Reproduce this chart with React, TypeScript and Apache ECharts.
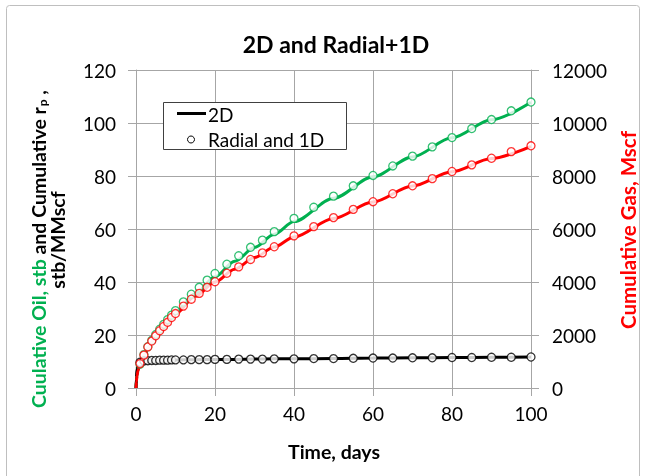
import React, { useEffect, useRef } from "react";
import * as echarts from "echarts";

// Time (days) of the "Radial and 1D" markers
const markerT = [1, 2, 3, 4, 5, 6, 7, 8, 9, 10, 12, 14, 16, 18, 20, 23, 26, 29, 32, 35, 40, 45, 50, 55, 60, 65, 70, 75, 80, 85, 90, 95, 100];
// Cumulative oil, stb (Radial and 1D)
const oilMarkers = [9.0, 12.6, 15.6, 18.0, 20.2, 22.2, 24.0, 25.8, 27.5, 29.2, 32.5, 35.4, 38.0, 40.7, 43.2, 46.7, 49.9, 53.1, 55.8, 59.0, 64.0, 68.2, 72.4, 76.3, 80.2, 83.8, 87.5, 91.0, 94.5, 97.9, 101.3, 104.6, 107.9];
// Cumulative gas, Mscf (Radial and 1D)
const gasMarkers = [920, 1240, 1550, 1770, 1970, 2160, 2320, 2480, 2660, 2810, 3090, 3350, 3570, 3800, 4010, 4330, 4570, 4850, 5100, 5330, 5740, 6090, 6430, 6740, 7030, 7330, 7630, 7900, 8170, 8420, 8670, 8920, 9140];
// Cumulative rp, stb/MMscf (Radial and 1D)
const rpMarkers = [9.7, 10.2, 10.3, 10.4, 10.4, 10.5, 10.5, 10.5, 10.6, 10.6, 10.6, 10.7, 10.7, 10.7, 10.8, 10.8, 10.9, 10.9, 10.9, 11.0, 11.0, 11.1, 11.1, 11.2, 11.3, 11.3, 11.4, 11.4, 11.5, 11.5, 11.6, 11.6, 11.7];

// Time (days) of the 2D curves
const lineT = [0, 0.1, 0.25, 0.5, 1, 2, 3, 5, 7, 10, 15, 20, 25, 30, 35, 40, 50, 60, 70, 80, 90, 100];
const oilLine = [0, 3.0, 5.0, 6.8, 8.8, 12.3, 15.2, 19.8, 23.6, 28.6, 35.6, 42.0, 47.8, 53.0, 58.0, 62.8, 71.6, 79.7, 87.2, 94.4, 101.2, 107.8];
const gasLine = [0, 250, 450, 650, 900, 1230, 1510, 1960, 2320, 2800, 3460, 4000, 4480, 4920, 5320, 5700, 6400, 7020, 7620, 8160, 8660, 9120];
const rpLine = [0, 4.0, 7.0, 8.8, 9.8, 10.2, 10.3, 10.4, 10.5, 10.6, 10.7, 10.8, 10.8, 10.9, 11.0, 11.0, 11.1, 11.3, 11.4, 11.5, 11.6, 11.7];

const GREEN = "#00B050";
const RED = "#FF0000";
const GRID = "#a6a6a6";
const FONT = "Lato";

const pair = (t: number[], v: number[]) => t.map((x, i) => [x, v[i]]);

export default function App() {
  const ref = useRef<HTMLDivElement>(null);
  useEffect(() => {
    if (!ref.current) return;
    const chart = echarts.init(ref.current, null, { renderer: "svg" });

    const lineSeries = (name: string, data: number[][], color: string, yi: number) => ({
      name,
      type: "line",
      yAxisIndex: yi,
      data,
      showSymbol: false,
      smooth: 0.3,
      smoothMonotone: "x",
      lineStyle: { color, width: 3 },
      itemStyle: { color },
      z: 2,
    });
    const markerSeries = (name: string, data: number[][], color: string, yi: number) => ({
      name,
      type: "scatter",
      yAxisIndex: yi,
      data,
      symbol: "circle",
      symbolSize: 8,
      itemStyle: { color: "#ffffff", borderColor: color, borderWidth: 1.3 },
      z: 3,
    });

    const axisCommon = {
      axisLine: { show: true, lineStyle: { color: GRID, width: 1 } },
      axisTick: { show: true, length: 8, lineStyle: { color: GRID, width: 1 } },
      axisLabel: { color: "#000", fontSize: 19, fontFamily: FONT, formatter: (v: number) => String(v) },
    };

    chart.setOption({
      animation: false,
      textStyle: { fontFamily: FONT },
      title: {
        text: "2D and Radial+1D",
        left: 331,
        top: 27,
        textAlign: "center",
        textStyle: { fontFamily: FONT, fontSize: 23, fontWeight: "bold", color: "#000" },
      },
      grid: { left: 136, right: 116, top: 70, bottom: 88 },
      xAxis: {
        type: "value",
        min: 0,
        max: 100,
        interval: 20,
        ...axisCommon,
        axisLabel: { ...axisCommon.axisLabel, margin: 16 },
        splitLine: { show: true, lineStyle: { color: GRID, width: 1 } },
      },
      yAxis: [
        {
          type: "value",
          min: 0,
          max: 120,
          interval: 20,
          position: "left",
          ...axisCommon,
          axisLabel: { ...axisCommon.axisLabel, margin: 20 },
          splitLine: { show: true, lineStyle: { color: GRID, width: 1 } },
        },
        {
          type: "value",
          min: 0,
          max: 12000,
          interval: 2000,
          position: "right",
          ...axisCommon,
          axisLabel: { ...axisCommon.axisLabel, margin: 21 },
          splitLine: { show: false },
        },
      ],
      series: [
        lineSeries("Oil 2D", pair(lineT, oilLine), GREEN, 0),
        markerSeries("Oil Radial and 1D", pair(markerT, oilMarkers), GREEN, 0),
        lineSeries("2D", pair(lineT, rpLine), "#000000", 0),
        markerSeries("Radial and 1D", pair(markerT, rpMarkers), "#000000", 0),
        lineSeries("Gas 2D", pair(lineT, gasLine), RED, 1),
        markerSeries("Gas Radial and 1D", pair(markerT, gasMarkers), RED, 1),
      ],
      graphic: [
        {
          type: "rect",
          shape: { x: 6.5, y: 5.5, width: 633, height: 480, r: 3 },
          style: { fill: "none", stroke: "#bfbfbf", lineWidth: 1 },
          silent: true,
          z: -10,
        },
        // legend
        {
          type: "rect",
          shape: { x: 163.5, y: 102.5, width: 183, height: 47 },
          style: { fill: "#ffffff", stroke: "#404040", lineWidth: 1 },
          z: 100,
        },
        {
          type: "line",
          shape: { x1: 177, y1: 113.5, x2: 206, y2: 113.5 },
          style: { stroke: "#000", lineWidth: 3 },
          z: 101,
        },
        {
          type: "text",
          x: 208,
          y: 114,
          style: { text: "2D", fontFamily: FONT, fontSize: 19, fill: "#000", verticalAlign: "middle" },
          z: 101,
        },
        {
          type: "circle",
          shape: { cx: 191, cy: 139.5, r: 3.5 },
          style: { fill: "#fff", stroke: "#000", lineWidth: 1 },
          z: 101,
        },
        {
          type: "text",
          x: 208,
          y: 139.5,
          style: { text: "Radial and 1D", fontFamily: FONT, fontSize: 19, fill: "#000", verticalAlign: "middle" },
          z: 101,
        },
        // left axis name (two lines)
        {
          type: "text",
          x: 38,
          y: 249,
          rotation: Math.PI / 2,
          style: {
            text: "{g|Cuulative Oil, stb}{k| and Cumulative r}{s|p}{k| ,}",
            align: "center",
            verticalAlign: "middle",
            rich: {
              g: { fontFamily: FONT, fontSize: 19.5, fontWeight: "bold", fill: GREEN, color: GREEN },
              k: { fontFamily: FONT, fontSize: 19.5, fontWeight: "bold", fill: "#000", color: "#000" },
              s: { fontFamily: FONT, fontSize: 12, fontWeight: "bold", fill: "#000", color: "#000", padding: [9, 0, 0, 1] },
            },
          },
        },
        {
          type: "text",
          x: 57,
          y: 240,
          rotation: Math.PI / 2,
          style: {
            text: "stb/MMscf",
            align: "center",
            verticalAlign: "middle",
            fontFamily: FONT,
            fontSize: 19.5,
            fontWeight: "bold",
            fill: "#000",
          },
        },
        // right axis name
        {
          type: "text",
          x: 628,
          y: 230,
          rotation: Math.PI / 2,
          style: {
            text: "Cumulative Gas, Mscf",
            align: "center",
            verticalAlign: "middle",
            fontFamily: FONT,
            fontSize: 20.5,
            fontWeight: "bold",
            fill: RED,
          },
        },
        // x axis name
        {
          type: "text",
          x: 334,
          y: 451,
          style: {
            text: "Time, days",
            align: "center",
            verticalAlign: "middle",
            fontFamily: FONT,
            fontSize: 19.5,
            fontWeight: "bold",
            fill: "#000",
          },
        },
      ],
    });
    return () => chart.dispose();
  }, []);
  return (
    <div
      ref={ref}
      style={{ position: "fixed", left: 0, top: 0, width: 647, height: 476 }}
    />
  );
}
